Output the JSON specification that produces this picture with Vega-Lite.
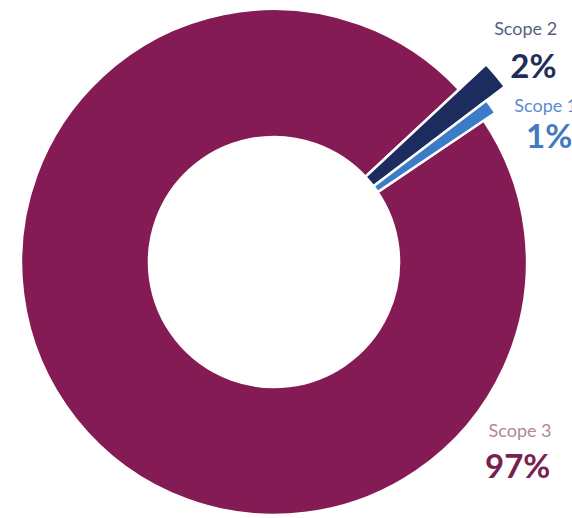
{
  "$schema": "https://vega.github.io/schema/vega-lite/v6.json",
  "autosize": "none",
  "width": 548,
  "height": 512,
  "padding": {"left": 0, "top": 6, "right": 24, "bottom": 0},
  "background": "white",
  "config": {"view": {"stroke": null}, "font": "Lato"},
  "data": {
    "values": [
      {"scope": "Scope 2", "share": 1.6, "label": "2%", "rank": 1},
      {"scope": "Scope 1", "share": 0.9, "label": "1%", "rank": 2},
      {"scope": "Scope 3", "share": 97.5, "label": "97%", "rank": 3}
    ]
  },
  "layer": [
    {
      "mark": {"type": "arc", "innerRadius": 125, "outerRadius": 253, "stroke": "white", "strokeWidth": 2.5},
      "encoding": {
        "theta": {"field": "share", "type": "quantitative", "stack": true, "scale": {"range": [0.8203, 7.1035]}},
        "order": {"field": "rank", "type": "quantitative"},
        "color": {"field": "scope", "type": "nominal", "scale": {"domain": ["Scope 2", "Scope 1", "Scope 3"], "range": ["#1D2C5E", "#3C7CC6", "#851B54"]}, "legend": null},
        "opacity": {"condition": {"test": "datum.scope === 'Scope 3'", "value": 1}, "value": 0}
      }
    },
    {
      "mark": {"type": "arc", "innerRadius": 125, "outerRadius": 290, "stroke": "white", "strokeWidth": 2.5},
      "encoding": {
        "theta": {"field": "share", "type": "quantitative", "stack": true, "scale": {"range": [0.8203, 7.1035]}},
        "order": {"field": "rank", "type": "quantitative"},
        "color": {"field": "scope", "type": "nominal", "legend": null},
        "opacity": {"condition": {"test": "datum.scope === 'Scope 2'", "value": 1}, "value": 0}
      }
    },
    {
      "mark": {"type": "arc", "innerRadius": 125, "outerRadius": 267, "stroke": "white", "strokeWidth": 2.5},
      "encoding": {
        "theta": {"field": "share", "type": "quantitative", "stack": true, "scale": {"range": [0.8203, 7.1035]}},
        "order": {"field": "rank", "type": "quantitative"},
        "color": {"field": "scope", "type": "nominal", "legend": null},
        "opacity": {"condition": {"test": "datum.scope === 'Scope 1'", "value": 1}, "value": 0}
      }
    },
    {
      "transform": [{"filter": "datum.scope === 'Scope 2'"}],
      "mark": {"type": "text", "theta": 0.8268, "radius": 342, "fontSize": 18, "color": "#56627F", "font": "Lato", "align": "center", "baseline": "middle"},
      "encoding": {"text": {"field": "scope"}}
    },
    {
      "transform": [{"filter": "datum.scope === 'Scope 2'"}],
      "mark": {"type": "text", "theta": 0.928, "radius": 324, "fontSize": 33, "fontWeight": "bold", "color": "#1F2D5C", "font": "Lato", "align": "center", "baseline": "middle"},
      "encoding": {"text": {"field": "label"}}
    },
    {
      "transform": [{"filter": "datum.scope === 'Scope 1'"}],
      "mark": {"type": "text", "theta": 1.052, "radius": 313, "fontSize": 18, "color": "#5B8BD0", "font": "Lato", "align": "center", "baseline": "middle"},
      "encoding": {"text": {"field": "scope"}}
    },
    {
      "transform": [{"filter": "datum.scope === 'Scope 1'"}],
      "mark": {"type": "text", "theta": 1.146, "radius": 302, "fontSize": 33, "fontWeight": "bold", "color": "#4379BF", "font": "Lato", "align": "center", "baseline": "middle"},
      "encoding": {"text": {"field": "label"}}
    },
    {
      "transform": [{"filter": "datum.scope === 'Scope 3'"}],
      "mark": {"type": "text", "theta": 2.175, "radius": 299, "fontSize": 18, "color": "#B0869C", "font": "Lato", "align": "center", "baseline": "middle"},
      "encoding": {"text": {"field": "scope"}}
    },
    {
      "transform": [{"filter": "datum.scope === 'Scope 3'"}],
      "mark": {"type": "text", "theta": 2.272, "radius": 319, "fontSize": 33, "fontWeight": "bold", "color": "#7A1F50", "font": "Lato", "align": "center", "baseline": "middle"},
      "encoding": {"text": {"field": "label"}}
    }
  ]
}
